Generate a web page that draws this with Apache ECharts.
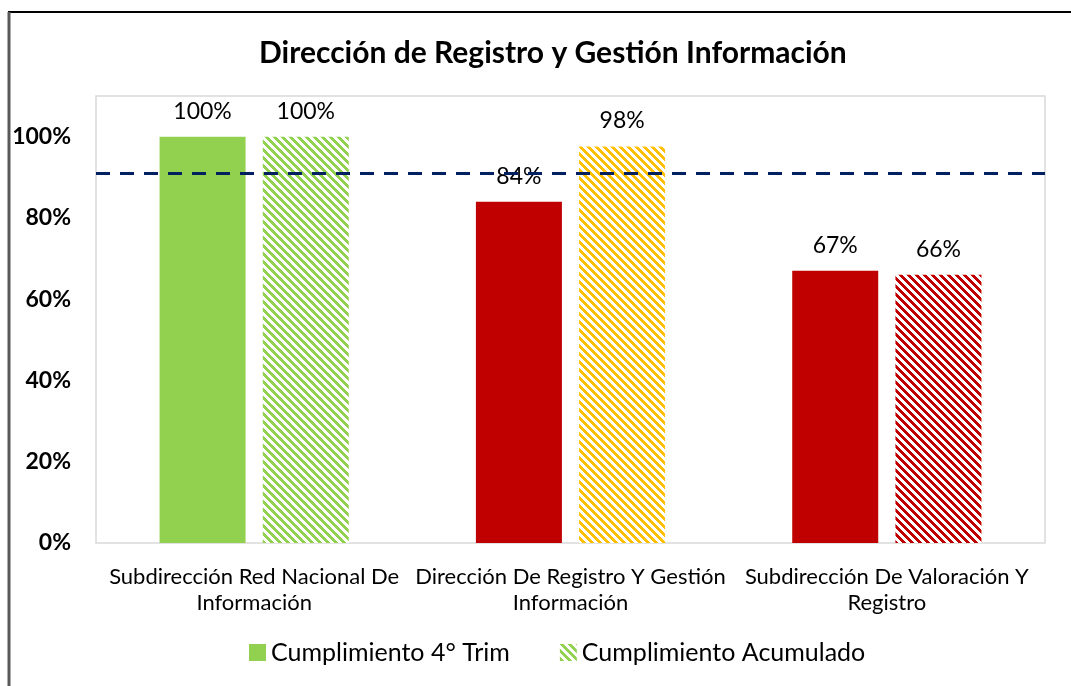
<!DOCTYPE html>
<html>
<head>
<meta charset="utf-8">
<script src="https://cdn.jsdelivr.net/npm/echarts@6/dist/echarts.min.js"></script>
<style>
  html, body { margin: 0; padding: 0; background: #fff; }
  #chart { width: 1071px; height: 686px; }
</style>
</head>
<body>
<div id="chart"></div>
<script>
const categories = ['Subdirección Red Nacional De\nInformación', 'Dirección De Registro Y Gestión\nInformación', 'Subdirección De Valoración Y\nRegistro']
const trimValues = [1.0, 0.84, 0.67]
const acumValues = [1.0, 0.976, 0.66]
const barColors = ['#92D050', '#C00000', '#C00000']
const acumColors = ['#92D050', '#FFC000', '#C00000']
const metaValue = 0.91
const seriesNames = ['Cumplimiento 4° Trim', 'Cumplimiento Acumulado']

// rayado diagonal tipo Excel (8x8)
function hatch (color) {
  const c = document.createElement('canvas')
  c.width = 8
  c.height = 8
  const ctx = c.getContext('2d')
  ctx.fillStyle = '#fff'
  ctx.fillRect(0, 0, 8, 8)
  ctx.fillStyle = color
  for (let y = 0; y < 8; y++) {
    for (let x = 0; x < 8; x++) {
      if (((x - y) % 8 + 8) % 8 < 4) ctx.fillRect(x, y, 1, 1)
    }
  }
  return { image: c, repeat: 'repeat' }
}

const pct = v => Math.round(v * 100) + '%'
const font = 'Lato, "Open Sans", sans-serif'

const chart = echarts.init(document.getElementById('chart'))
const option = {
  animation: false,
  title: {
    text: 'Dirección de Registro y Gestión Información',
    left: 254,
    top: 33,
    textStyle: { fontFamily: font, fontSize: 30, fontWeight: 'bold', color: '#000' }
  },
  graphic: [
    { type: 'line', shape: { x1: 8, y1: 12, x2: 1071, y2: 12 }, style: { stroke: '#000', lineWidth: 2 } },
    { type: 'line', shape: { x1: 9, y1: 12, x2: 9, y2: 686 }, style: { stroke: '#595959', lineWidth: 3 } }
  ],
  legend: {
    bottom: 16,
    left: 244,
    itemWidth: 17,
    itemHeight: 17,
    itemGap: 50,
    icon: 'rect',
    textStyle: { fontFamily: font, fontSize: 25, color: '#000' },
    data: seriesNames
  },
  grid: {
    left: 96,
    right: 26,
    top: 96,
    bottom: 143,
    show: true,
    borderColor: '#d9d9d9',
    borderWidth: 1.5
  },
  xAxis: {
    type: 'category',
    data: categories,
    axisLine: { show: false },
    axisTick: { show: false },
    axisLabel: { interval: 0, fontFamily: font, fontSize: 22, color: '#000', lineHeight: 26, margin: 21 }
  },
  yAxis: {
    type: 'value',
    min: 0,
    max: 1.1,
    interval: 0.2,
    splitLine: { show: false },
    axisLine: { show: false },
    axisLabel: {
      showMaxLabel: false,
      fontFamily: font,
      fontSize: 23,
      fontWeight: 'bold',
      color: '#000',
      margin: 25,
      formatter: v => pct(v)
    }
  },
  series: [
    {
      name: seriesNames[0],
      type: 'bar',
      barWidth: 86,
      barGap: '20%',
      itemStyle: { color: '#92D050' },
      label: { show: true, position: 'top', distance: 14, fontFamily: font, fontSize: 23, color: '#000', formatter: p => pct(p.value) },
      data: trimValues.map((v, i) => ({ value: v, itemStyle: { color: barColors[i] } })),
      markLine: {
        silent: true,
        symbol: 'none',
        label: { show: false },
        lineStyle: { color: '#002060', width: 3, type: [14, 10] },
        data: [{ yAxis: metaValue }]
      }
    },
    {
      name: seriesNames[1],
      type: 'bar',
      barWidth: 86,
      itemStyle: { color: hatch('#92D050') },
      label: { show: true, position: 'top', distance: 14, fontFamily: font, fontSize: 23, color: '#000', formatter: p => pct(p.value) },
      data: acumValues.map((v, i) => ({ value: v, itemStyle: { color: hatch(acumColors[i]) } }))
    }
  ]
}
chart.setOption(option)
</script>
</body>
</html>
